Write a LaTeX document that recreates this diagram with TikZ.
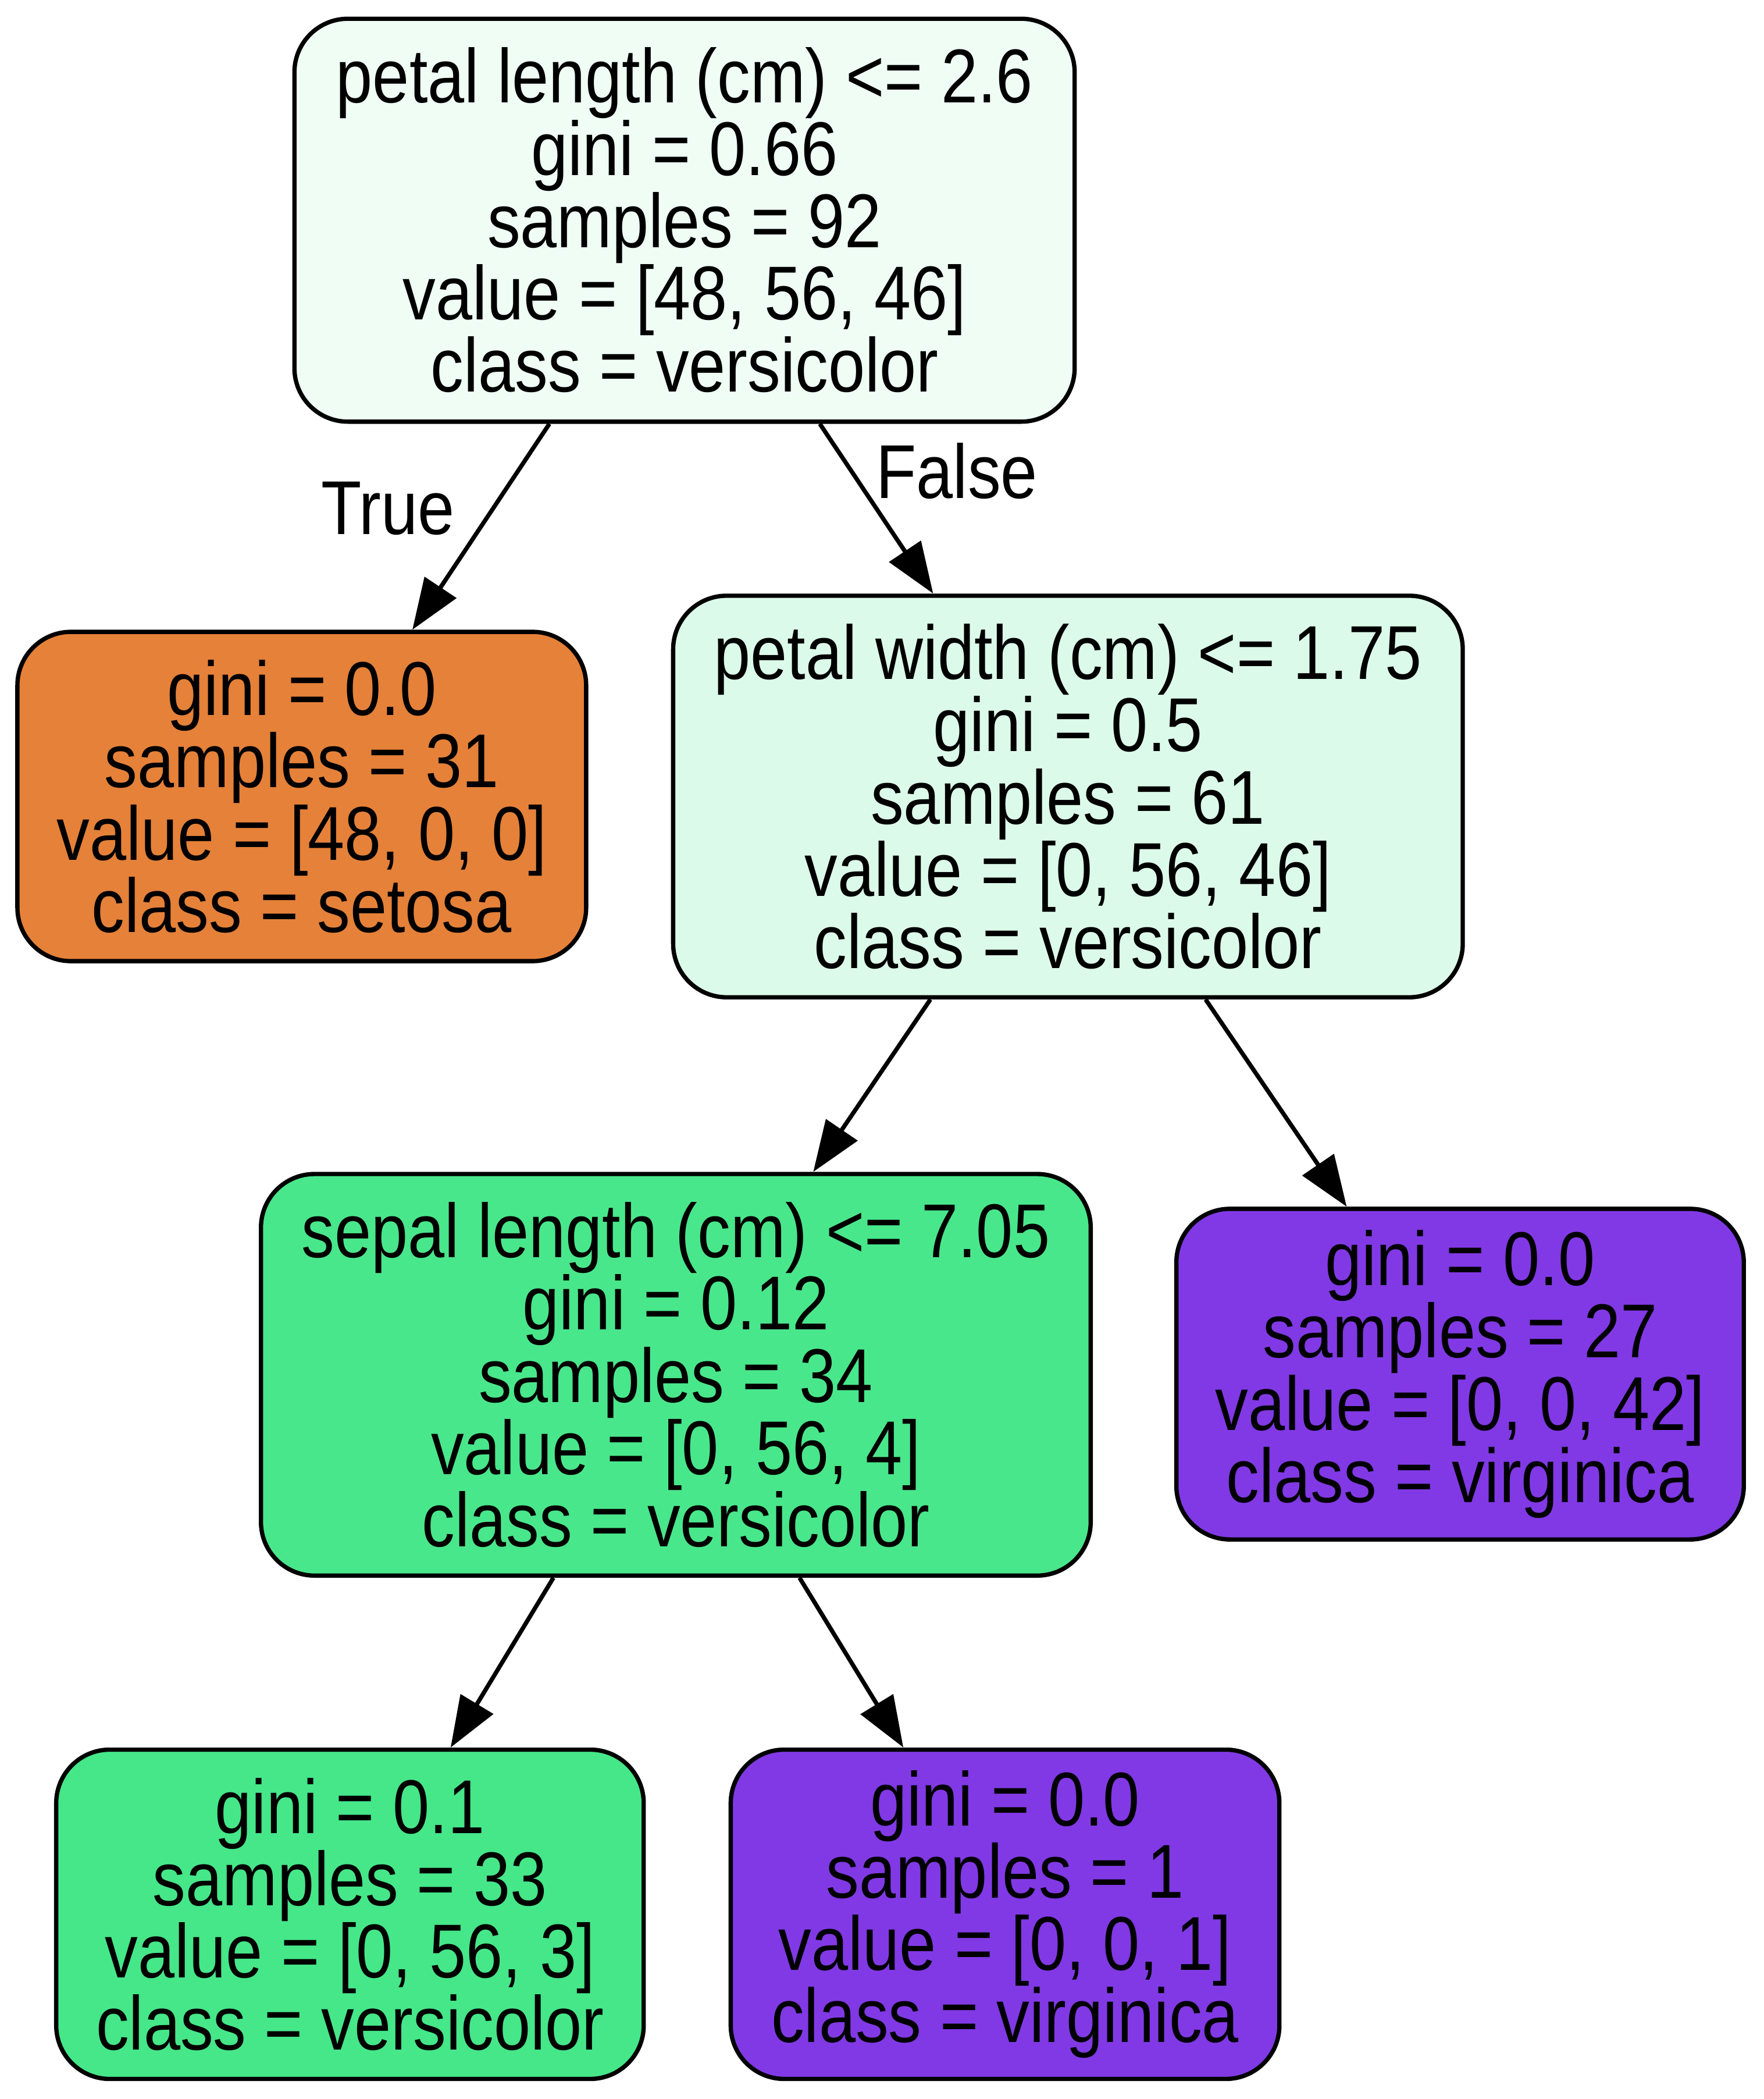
\documentclass[tikz,border=0pt]{standalone}
\usepackage{fontspec}
\setmainfont{Liberation Sans}[FakeStretch=0.865]
\usetikzlibrary{arrows.meta}
\definecolor{root-tint}{RGB}{239,253,245}
\definecolor{setosa-orange}{RGB}{229,129,57}
\definecolor{split-tint}{RGB}{220,250,233}
\definecolor{split-green}{RGB}{73,231,139}
\definecolor{leaf-green}{RGB}{69,231,137}
\definecolor{virginica-purple}{RGB}{129,57,229}

\begin{document}
\begin{tikzpicture}[x=0.5pt, y=-0.5pt,
  treenode/.style={draw, line width=1.6pt, rounded corners=20pt, inner sep=0pt,
    align=center, font=\fontsize{28.5}{27}\selectfont},
  branch/.style={line width=1.6pt, -{Triangle[length=19pt,width=14pt]}},
  branchlabel/.style={font=\fontsize{28.5}{27}\selectfont}]
  \useasboundingbox (0,0) rectangle (1318,1568);

  % splits
  \node[treenode, fill=root-tint, minimum width=291.5pt, minimum height=150.5pt] (root) at (511.5,164.5)
    {petal length (cm) <= 2.6\\gini = 0.66\\samples = 92\\value = [48, 56, 46]\\class = versicolor};
  \node[treenode, fill=split-tint, minimum width=295pt, minimum height=150pt] (pwidth) at (798,595)
    {petal width (cm) <= 1.75\\gini = 0.5\\samples = 61\\value = [0, 56, 46]\\class = versicolor};
  \node[treenode, fill=split-green, minimum width=310pt, minimum height=150pt] (slength) at (505,1027)
    {sepal length (cm) <= 7.05\\gini = 0.12\\samples = 34\\value = [0, 56, 4]\\class = versicolor};

  % leaves
  \node[treenode, fill=setosa-orange, minimum width=212.5pt, minimum height=123pt] (setosa) at (225.5,595)
    {gini = 0.0\\samples = 31\\value = [48, 0, 0]\\class = setosa};
  \node[treenode, fill=virginica-purple, minimum width=212pt, minimum height=123.5pt] (virgA) at (1091,1026.5)
    {gini = 0.0\\samples = 27\\value = [0, 0, 42]\\class = virginica};
  \node[treenode, fill=leaf-green, minimum width=219.5pt, minimum height=123pt] (versic) at (261.5,1430)
    {gini = 0.1\\samples = 33\\value = [0, 56, 3]\\class = versicolor};
  \node[treenode, fill=virginica-purple, minimum width=205pt, minimum height=123pt] (virgB) at (751,1430)
    {gini = 0.0\\samples = 1\\value = [0, 0, 1]\\class = virginica};

  % branches
  \draw[branch] (root) -- (setosa);
  \draw[branch] (root) -- (pwidth);
  \draw[branch] (pwidth) -- (slength);
  \draw[branch] (pwidth) -- (virgA);
  \draw[branch] (slength) -- (versic);
  \draw[branch] (slength) -- (virgB);

  \node[branchlabel] (truelbl) at (290,380) {True};
  \node[branchlabel] (falselbl) at (715,352) {False};
\end{tikzpicture}
\end{document}
